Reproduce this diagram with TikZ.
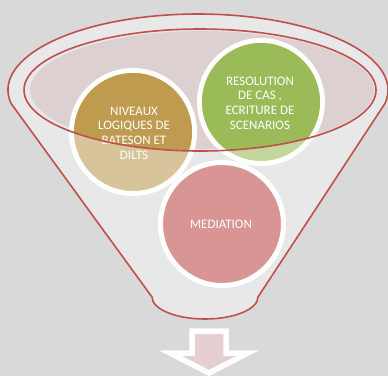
\documentclass[tikz,border=0pt]{standalone}
\usepackage{fontspec}
\setmainfont{Carlito}
\definecolor{backdrop}{HTML}{D9D9D9}
\definecolor{funnelbody}{HTML}{E8E8E8}
\definecolor{funnelrim}{HTML}{C0504D}
\definecolor{mouthfill}{HTML}{DDD0D1}
\definecolor{goldfull}{HTML}{BF9B50}
\definecolor{goldsoft}{HTML}{D8C49A}
\definecolor{greenfull}{HTML}{9BBB59}
\definecolor{greensoft}{HTML}{C3D69B}
\definecolor{rosefull}{HTML}{D99594}
\definecolor{arrowfill}{HTML}{E6CFD0}
\begin{document}
\begin{tikzpicture}[x=1pt,y=-1pt,
  disc/.style={circle, draw=white, line width=5pt, minimum size=123pt, inner sep=0pt},
  disclabel/.style={text=white, align=center, font=\fontsize{13}{14.6}\selectfont, inner sep=0pt},
  rim/.style={draw=funnelrim, line width=1.6pt}]
  \useasboundingbox (0,0) rectangle (388,376);
  \fill[backdrop] (0,0) rectangle (388,376);

  % funnel body: top ellipse, tapering sides, narrow rounded bottom
  \path[fill=funnelbody] (198,90) ++(170:190 and 76) coordinate (lefttop)
    arc[start angle=170, end angle=370, x radius=190, y radius=76] coordinate (righttop)
    -- (258,297) coordinate (rightbottom)
    arc[start angle=0, end angle=180, x radius=53, y radius=22] coordinate (leftbottom)
    -- cycle;

  % mouth of the funnel
  \fill[mouthfill] (202,90) ellipse[x radius=172, y radius=59];

  % the three discs
  \node[disc, fill=goldsoft]  (bateson)   at (133,132) {};
  \node[disc, fill=greensoft] (resolution) at (261,102) {};
  \node[disc, fill=rosefull]  (mediation) at (222,224) {};

  % the parts of the discs inside the mouth keep their full colour
  \begin{scope}
    \clip (200,90) ellipse[x radius=176, y radius=61];
    \fill[goldfull]  (bateson.center)    circle[radius=59];
    \fill[greenfull] (resolution.center) circle[radius=59];
  \end{scope}

  \node[disclabel] (batesontext) at (134,133) {NIVEAUX\\LOGIQUES DE\\BATESON ET\\DILTS};
  \node[disclabel] (resolutiontext) at (260,103) {RESOLUTION\\DE CAS ,\\ECRITURE DE\\SCENARIOS};
  \node[disclabel] (mediationtext) at (221,224) {MEDIATION};

  % outlines of the funnel
  \draw[rim] (lefttop)
    arc[start angle=170, end angle=370, x radius=190, y radius=76]
    -- (rightbottom)
    arc[start angle=0, end angle=180, x radius=53, y radius=22]
    -- cycle;
  \draw[rim] (200,90) ellipse[x radius=176, y radius=61];

  % downward arrow under the funnel
  \draw[draw=white, line width=5.5pt, fill=arrowfill, line join=miter]
    (192,331) -- (226,331) -- (226,353) -- (248,353) -- (209,373)
    -- (170,353) -- (192,353) -- cycle;
\end{tikzpicture}
\end{document}
